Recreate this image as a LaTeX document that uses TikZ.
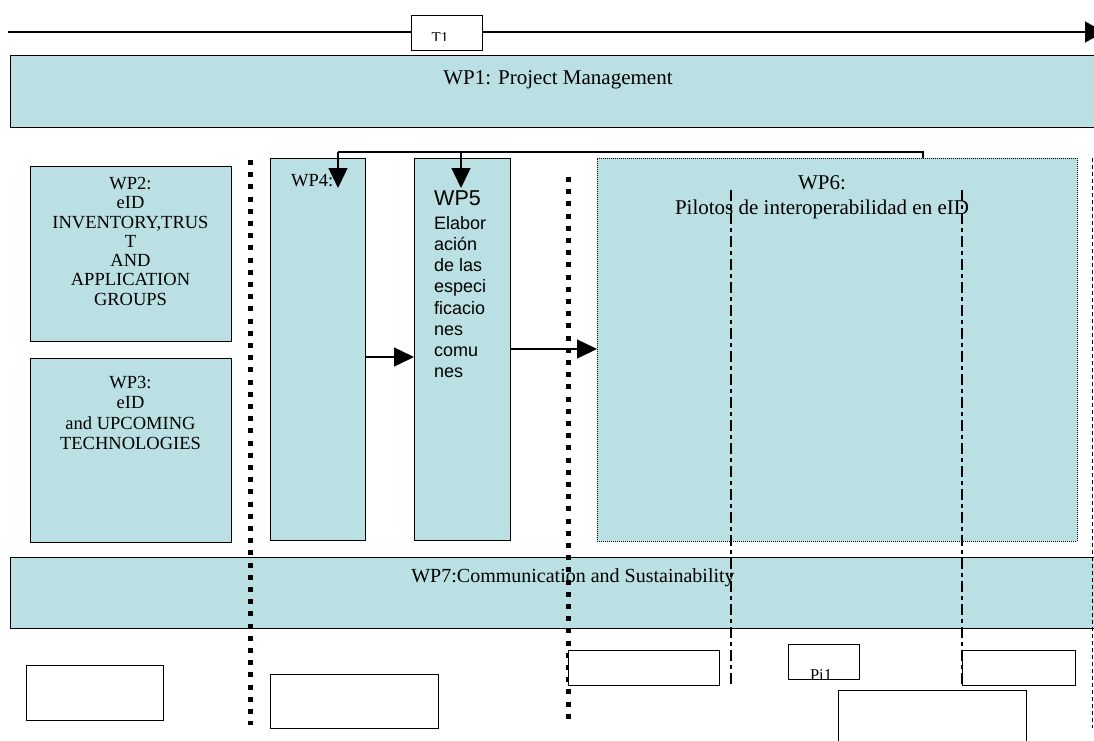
\documentclass[tikz,border=0pt]{standalone}
\usepackage{fontspec}
\setmainfont{Liberation Serif}
\newfontfamily\arialf{Liberation Sans}
\usetikzlibrary{arrows.meta}
\definecolor{wpfill}{RGB}{187,224,227}
\tikzset{
  wpbox/.style={draw=black, line width=1.4pt, fill=wpfill, rectangle, inner sep=0pt, anchor=north west},
  plainbox/.style={draw=black, line width=1.4pt, fill=white, rectangle, inner sep=0pt, anchor=north west},
  txt/.style={inner sep=0pt, align=center, font=\fontsize{18.5}{19.3}\selectfont},
  bigtxt/.style={inner sep=0pt, align=center, font=\fontsize{21}{25}\selectfont},
  sqdots/.style={line width=5pt, dash pattern=on 5pt off 7.2pt},
  dashdot/.style={line width=1.6pt, dash pattern=on 11pt off 4pt on 4pt off 4pt},
  conn/.style={line width=1.4pt},
  bigarrow/.style={line width=1.4pt, -{Triangle[width=19pt,length=20pt]}}
}
\begin{document}
\begin{tikzpicture}[x=1pt,y=-1pt]
\useasboundingbox (0,0) rectangle (1094,740);
\clip (0,0) rectangle (1094,740);
\fill[white] (0,0) rectangle (1094,740);

% WP1
\node[wpbox, minimum width=1100pt, minimum height=72pt] (wp1) at (10,55) {};
\node[bigtxt] (wp1t) at (558,80) {WP1: Project Management};

% timeline
\coordinate (tl0) at (8,32);
\coordinate (tl1) at (1104,32);
\draw[line width=1.4pt, -{Triangle[width=21pt,length=19pt]}] (tl0) -- (tl1);
\node[plainbox, minimum width=71pt, minimum height=35pt] (t1) at (411,15) {};
\begin{scope}
\clip (412,16) rectangle (481,40.5);
\node[inner sep=0pt, anchor=base, font=\fontsize{15}{15}\selectfont] (t1t) at (440,42) {T1};
\end{scope}

% WP2, WP3
\node[wpbox, minimum width=201pt, minimum height=175pt] (wp2) at (30,166) {};
\node[txt, anchor=north] (wp2t) at (130.5,177) {WP2:\\eID\\INVENTORY,TRUS\\T\\AND\\APPLICATION\\GROUPS};
\node[wpbox, minimum width=201pt, minimum height=184pt] (wp3) at (30,358) {};
\node[txt, anchor=north, font=\fontsize{18.5}{20.5}\selectfont] (wp3t) at (130.5,376) {WP3:\\eID\\and UPCOMING\\TECHNOLOGIES};

% WP4, WP5
\node[wpbox, minimum width=95pt, minimum height=382pt] (wp4) at (270,158) {};
\node[txt, anchor=north west] (wp4t) at (291,174) {WP4:};
\node[wpbox, minimum width=96pt, minimum height=382pt] (wp5) at (414,158) {};
\node[inner sep=0pt, anchor=north west, align=left, font=\arialf\fontsize{18}{21.2}\selectfont] (wp5t) at (434,190)
  {{\fontsize{21.5}{24}\selectfont WP5}\\[3pt]Elabor\\aci\'on\\de las\\especi\\ficacio\\nes\\comu\\nes};

% WP6
\node[draw=black, line width=0.9pt, dash pattern=on 1pt off 1pt, fill=wpfill, rectangle, inner sep=0pt, anchor=north west,
  minimum width=480pt, minimum height=383pt] (wp6) at (597,158) {};
\node[bigtxt, anchor=north] (wp6t) at (822,175) {WP6:\\Pilotos de interoperabilidad en eID};

% WP7
\node[wpbox, minimum width=1100pt, minimum height=71pt] (wp7) at (10,557) {};
\node[bigtxt, font=\fontsize{20}{24}\selectfont] (wp7t) at (573,578) {WP7:Communication and Sustainability};

% dotted separators
\coordinate (s1a) at (250,160);
\coordinate (s1b) at (250,725);
\coordinate (s2a) at (568,177);
\coordinate (s2b) at (568,725);
\draw[sqdots] (s1a) -- (s1b);
\draw[sqdots] (s2a) -- (s2b);

% dash-dot lines
\coordinate (d1a) at (731,190);
\coordinate (d1b) at (731,686);
\coordinate (d2a) at (962,190);
\coordinate (d2b) at (962,686);
\draw[dashdot] (d1a) -- (d1b);
\draw[dashdot] (d2a) -- (d2b);
\coordinate (d3a) at (1092.5,158);
\coordinate (d3b) at (1092.5,728);
\draw[line width=0.9pt, dash pattern=on 4pt off 3pt] (d3a) -- (d3b);

% bracket connector from WP6 to WP4 and WP5
\coordinate (br) at (923,152);
\coordinate (bl) at (338,152);
\coordinate (bm) at (461,152);
\coordinate (a4) at (338,188);
\coordinate (a5) at (461,188);
\draw[conn] (wp6.north -| br) -- (br) -- (bl);
\draw[bigarrow] (bl) -- (a4);
\draw[bigarrow] (bm) -- (a5);

% horizontal arrows
\draw[bigarrow] (wp4.east |- 0,357) -- (wp5.west |- 0,357);
\draw[bigarrow] (wp5.east |- 0,349) -- (wp6.west |- 0,349);

% bottom boxes
\node[plainbox, minimum width=137pt, minimum height=55pt] (b1) at (26,665) {};
\node[plainbox, minimum width=168pt, minimum height=54pt] (b2) at (270,674) {};
\node[plainbox, minimum width=151pt, minimum height=35pt] (b3) at (568,650) {};
\node[plainbox, minimum width=71pt, minimum height=35pt] (b4) at (788,644) {};
\begin{scope}
\clip (789,645) rectangle (858,678);
\node[inner sep=0pt, anchor=base, font=\fontsize{16.5}{16.5}\selectfont] (b4t) at (821,680) {Pi1};
\end{scope}
\node[plainbox, minimum width=113pt, minimum height=35pt] (b5) at (962,650) {};
\node[plainbox, minimum width=188pt, minimum height=60pt] (b6) at (838,690) {};
\end{tikzpicture}
\end{document}
